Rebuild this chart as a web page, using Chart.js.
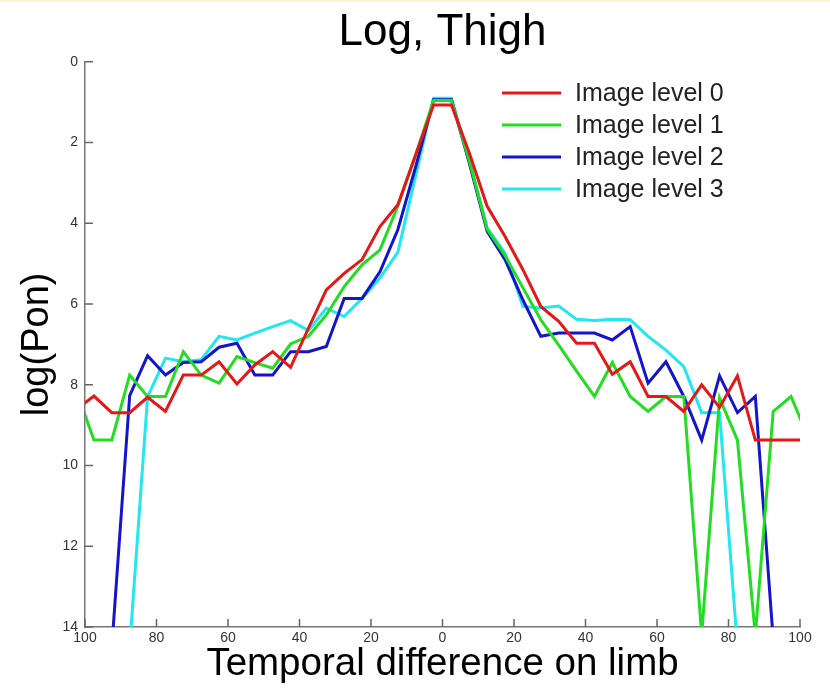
<!DOCTYPE html>
<html>
<head>
<meta charset="utf-8">
<title>Log, Thigh</title>
<script src="https://cdn.jsdelivr.net/npm/chart.js@4.4.1/dist/chart.umd.min.js"></script>
<style>
  html, body { margin: 0; padding: 0; background: #fff; }
  #wrap { width: 830px; height: 691px; }
</style>
</head>
<body>
<div id="wrap"><canvas id="logChart" width="830" height="691"></canvas></div>
<script>
// x positions of the samples (bins of 5, centred on odd multiples of 2.5)
const xPositions = [
  -102.5, -97.5, -92.5, -87.5, -82.5, -77.5, -72.5, -67.5, -62.5, -57.5,
  -52.5, -47.5, -42.5, -37.5, -32.5, -27.5, -22.5, -17.5, -12.5, -7.5,
  -2.5, 2.5, 7.5, 12.5, 17.5, 22.5, 27.5, 32.5, 37.5, 42.5,
  47.5, 52.5, 57.5, 62.5, 67.5, 72.5, 77.5, 82.5, 87.5, 92.5,
  97.5, 102.5
];

const level0 = [
  8.62, 8.28, 8.69, 8.69, 8.31, 8.66, 7.76, 7.76, 7.43, 7.98,
  7.51, 7.18, 7.57, 6.6, 5.65, 5.24, 4.9, 4.08, 3.54, 2.3,
  1.07, 1.07, 2.26, 3.58, 4.33, 5.15, 6.06, 6.43, 6.97, 6.97,
  7.74, 7.43, 8.29, 8.29, 8.66, 8.0, 8.56, 7.78, 9.37, 9.37,
  9.37, 9.37
];

const level1 = [
  8.13, 9.37, 9.37, 7.76, 8.29, 8.29, 7.18, 7.76, 7.96, 7.3,
  7.45, 7.59, 6.99, 6.8, 6.27, 5.57, 5.03, 4.66, 3.58, 2.3,
  0.96, 0.96, 2.45, 4.15, 4.8, 5.6, 6.39, 7.02, 7.66, 8.29,
  7.45, 8.29, 8.66, 8.29, 8.29, 14.2, 8.33, 9.37, 14.2, 8.66,
  8.29, 9.35
];

const level2 = [
  14.6, 14.6, 14.5, 8.27, 7.28, 7.76, 7.45, 7.43, 7.07, 6.97,
  7.76, 7.76, 7.18, 7.18, 7.05, 5.86, 5.86, 5.2, 4.16, 2.6,
  0.94, 0.94, 2.51, 4.2, 4.9, 5.9, 6.8, 6.72, 6.72, 6.72,
  6.89, 6.56, 7.96, 7.43, 8.29, 9.37, 7.78, 8.69, 8.29, 14.3,
  14.6, 14.6
];

const level3 = [
  14.6, 14.6, 14.6, 14.5, 8.3, 7.34, 7.43, 7.38, 6.8, 6.89,
  6.72, 6.56, 6.41, 6.66, 6.1, 6.31, 5.86, 5.36, 4.72, 2.82,
  0.9, 0.9, 2.43, 4.12, 4.74, 6.06, 6.1, 6.05, 6.38, 6.41,
  6.38, 6.39, 6.8, 7.14, 7.55, 8.69, 8.69, 14.5, 14.6, 14.6,
  14.6, 14.6
];

const seriesLabels = ['Image level 0', 'Image level 1', 'Image level 2', 'Image level 3'];
const seriesColors = ['#e61717', '#22dd22', '#1414cc', '#22e6f0'];
const yTicks = [0, 2, 4, 6, 8, 10, 12, 14];

const fontFamily = '"Liberation Sans", Arial, Helvetica, sans-serif';

function toPoints(values) {
    return values.map((v, i) => ({ x: xPositions[i], y: v }));
}

// white background + the thin yellowish strip at the very top
const background = {
    id: 'background',
    beforeDraw(chart) {
        const ctx = chart.ctx;
        ctx.save();
        ctx.fillStyle = '#ffffff';
        ctx.fillRect(0, 0, chart.width, chart.height);
        ctx.fillStyle = '#fbf6d2';
        ctx.fillRect(0, 0, chart.width, 2);
        ctx.restore();
    }
};

// tick marks pointing into the plot, like the original
const inwardTicks = {
    id: 'inwardTicks',
    afterDraw(chart) {
        const { ctx, chartArea, scales } = chart;
        ctx.save();
        ctx.strokeStyle = '#666';
        ctx.lineWidth = 1.5;
        ctx.beginPath();
        scales.x.ticks.forEach(t => {
            const px = scales.x.getPixelForValue(t.value);
            ctx.moveTo(px, chartArea.bottom);
            ctx.lineTo(px, chartArea.bottom - 8);
        });
        scales.y.ticks.forEach(t => {
            const py = scales.y.getPixelForValue(t.value);
            ctx.moveTo(chartArea.left, py);
            ctx.lineTo(chartArea.left + 8, py);
        });
        ctx.stroke();
        ctx.restore();
    }
};

// legend drawn inside the plot, top right
const insideLegend = {
    id: 'insideLegend',
    afterDatasetsDraw(chart) {
        const ctx = chart.ctx;
        ctx.save();
        ctx.font = '25px ' + fontFamily;
        ctx.textBaseline = 'middle';
        ctx.textAlign = 'left';
        chart.data.datasets.forEach((ds, i) => {
            const y = 93 + i * 32;
            ctx.strokeStyle = ds.borderColor;
            ctx.lineWidth = 3;
            ctx.beginPath();
            ctx.moveTo(502, y);
            ctx.lineTo(561, y);
            ctx.stroke();
            ctx.fillStyle = '#222';
            ctx.fillText(ds.label, 575, y + 1);
        });
        ctx.restore();
    }
};

const datasets = [level0, level1, level2, level3].map((vals, i) => ({
    label: seriesLabels[i],
    data: toPoints(vals),
    borderColor: seriesColors[i],
    backgroundColor: seriesColors[i],
    borderWidth: 3,
    pointRadius: 0,
    tension: 0,
    fill: false
}));

new Chart(document.getElementById('logChart'), {
    type: 'line',
    data: { datasets: datasets },
    options: {
        responsive: false,
        animation: false,
        layout: { padding: { left: 0, right: 30, top: 0, bottom: 0 } },
        scales: {
            x: {
                type: 'linear',
                min: -100,
                max: 100,
                grid: { display: false, drawTicks: false },
                border: { display: true, color: '#777', width: 1.5 },
                ticks: {
                    stepSize: 20,
                    padding: 3,
                    color: '#333',
                    font: { size: 14, family: fontFamily },
                    maxRotation: 0,
                    callback: v => Math.abs(v)
                },
                title: {
                    display: true,
                    text: 'Temporal difference on limb',
                    color: '#000',
                    font: { size: 38.5, family: fontFamily },
                    padding: { top: 0, bottom: 4 }
                },
                afterFit(scale) { scale.height = 64; }
            },
            y: {
                type: 'linear',
                reverse: true,
                min: 0,
                max: 14,
                grid: { display: false, drawTicks: false },
                border: { display: true, color: '#777', width: 1.5 },
                afterBuildTicks(scale) {
                    scale.ticks = yTicks.map(v => ({ value: v }));
                },
                ticks: {
                    padding: 7,
                    color: '#333',
                    font: { size: 14, family: fontFamily }
                },
                title: {
                    display: true,
                    text: 'log(Pon)',
                    color: '#000',
                    font: { size: 38, family: fontFamily },
                    padding: { top: 15, bottom: 0 }
                },
                afterFit(scale) { scale.width = 85; }
            }
        },
        plugins: {
            legend: { display: false },
            tooltip: { enabled: false },
            title: {
                display: true,
                fullSize: false,
                text: 'Log, Thigh',
                color: '#000',
                font: { size: 44, weight: 'normal', family: fontFamily },
                padding: { top: 6, bottom: 3 }
            }
        }
    },
    plugins: [background, inwardTicks, insideLegend]
});
</script>
</body>
</html>
